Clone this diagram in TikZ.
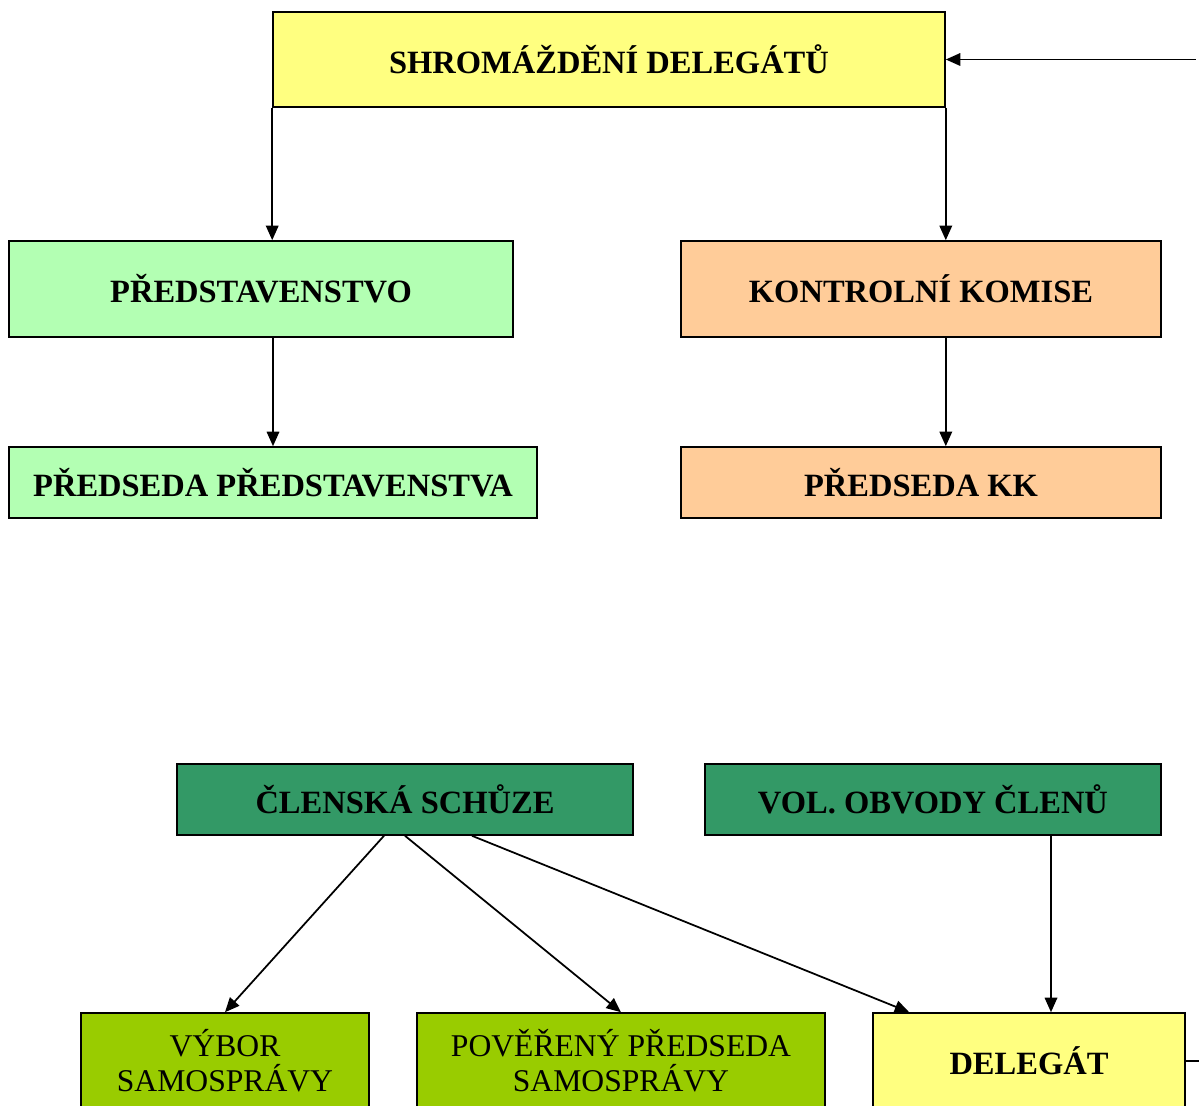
\documentclass[tikz,border=0pt]{standalone}
\usepackage{fontspec}
\setmainfont{Liberation Serif}
\usepackage{xcolor}
\usetikzlibrary{arrows.meta}

\definecolor{sdyellow}{HTML}{FFFF80}
\definecolor{prgreen}{HTML}{B3FFB3}
\definecolor{kkorange}{HTML}{FFCC99}
\definecolor{csgreen}{HTML}{339966}
\definecolor{vsgreen}{HTML}{99CC00}

\begin{document}
\begin{tikzpicture}[
    box/.style={draw,line width=.9pt,inner sep=0pt,align=center,
      font=\fontsize{18}{20}\selectfont},
    bbox/.style={box,font=\fontsize{18.5}{20}\selectfont\bfseries},
    link/.style={line width=1pt,-{Triangle[length=2.9mm,width=2.5mm]}}
  ]
  \clip (0,0) rectangle (23.98,-22.12);

  \node (sd) [bbox,fill=sdyellow,minimum width=13.44cm,minimum height=1.9cm]
    at (12.18,-1.19) {SHROMÁŽDĚNÍ DELEGÁTŮ};
  \node (pr) [bbox,fill=prgreen,minimum width=10.08cm,minimum height=1.92cm]
    at (5.22,-5.78) {PŘEDSTAVENSTVO};
  \node (kk) [bbox,fill=kkorange,minimum width=9.6cm,minimum height=1.92cm]
    at (18.42,-5.78) {KONTROLNÍ KOMISE};
  \node (ppr) [bbox,fill=prgreen,minimum width=10.56cm,minimum height=1.42cm]
    at (5.46,-9.65) {PŘEDSEDA PŘEDSTAVENSTVA};
  \node (pkk) [bbox,fill=kkorange,minimum width=9.6cm,minimum height=1.42cm]
    at (18.42,-9.65) {PŘEDSEDA KK};

  \node (cs) [bbox,fill=csgreen,minimum width=9.12cm,minimum height=1.42cm]
    at (8.1,-15.99) {ČLENSKÁ SCHŮZE};
  \node (vo) [bbox,fill=csgreen,minimum width=9.12cm,minimum height=1.42cm]
    at (18.66,-15.99) {VOL. OBVODY ČLENŮ};
  \node (vs) [box,fill=vsgreen,minimum width=5.76cm,minimum height=1.92cm]
    at (4.5,-21.22) {VÝBOR\\SAMOSPRÁVY};
  \node (pps) [box,fill=vsgreen,minimum width=8.16cm,minimum height=1.92cm]
    at (12.42,-21.22) {POVĚŘENÝ PŘEDSEDA\\SAMOSPRÁVY};
  \node (del) [bbox,fill=sdyellow,minimum width=6.24cm,minimum height=1.92cm]
    at (20.58,-21.22) {DELEGÁT};

  \draw[link] (sd.south west) -- (sd.south west |- pr.north);
  \draw[link] (sd.south east) -- (sd.south east |- kk.north);
  \draw[link] (ppr.north |- pr.south) -- (ppr.north);
  \draw[link] (sd.south east |- kk.south) -- (sd.south east |- pkk.north);

  \path (cs.south) +(-.42,0) coordinate (csvs);
  \path (cs.south) +(1.34,0) coordinate (csdel);
  \path (del.north west) +(.74,0) coordinate (delcs);
  \draw[link] (csvs) -- (vs.north);
  \draw[link] (cs.south) -- (pps.north);
  \draw[link] (csdel) -- (delcs);
  \path (vo.south) +(2.36,0) coordinate (vodel);
  \draw[link] (vodel) -- (vodel |- del.north);

  \path (sd.east) +(5,0) coordinate (sdin);
  \draw[link] (sdin) -- (sd.east);
  \path (del.east) +(1,0) coordinate (delout);
  \draw[line width=1pt] (del.east) -- (delout);
\end{tikzpicture}
\end{document}
